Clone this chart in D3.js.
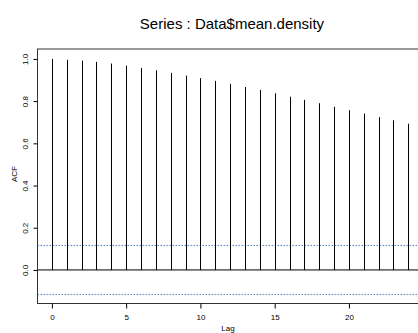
<!DOCTYPE html>
<html>
<head>
<meta charset="utf-8">
<script src="https://cdn.jsdelivr.net/npm/d3@7/dist/d3.min.js"></script>
<style>
  html, body { margin: 0; padding: 0; background: #fff; }
  svg { display: block; }
  text { font-family: "Liberation Sans", Arial, sans-serif; fill: #000; }
</style>
</head>
<body>
<svg id="chart" width="418" height="333"></svg>
<script>
const title = "Series : Data$mean.density";
const xLabel = "Lag";
const yLabel = "ACF";
const lags = [0,1,2,3,4,5,6,7,8,9,10,11,12,13,14,15,16,17,18,19,20,21,22,23,24];
const acf = [1.000,0.996,0.992,0.986,0.978,0.968,0.957,0.946,0.934,0.921,0.909,0.896,0.882,0.867,0.853,0.837,0.821,0.806,0.790,0.773,0.757,0.741,0.724,0.709,0.693];
const ciBound = 0.116;
const xTicks = [0,5,10,15,20];
const yTicks = [0,0.2,0.4,0.6,0.8,1.0];

(function () {
const svg = d3.select("#chart");
const pLeft = 37.5, pRight = 422.6, pTop = 49, pBottom = 303.5;

const x = d3.scaleLinear().domain([-0.969, 24.96]).range([pLeft, pRight]);
const y = d3.scaleLinear().domain([-0.159, 1.047]).range([pBottom, pTop]);

// title
svg.append("text")
  .attr("x", 232).attr("y", 29)
  .attr("text-anchor", "middle")
  .style("font-size", "15px")
  .text(title);

// box
svg.append("rect")
  .attr("x", pLeft).attr("y", pTop)
  .attr("width", pRight - pLeft).attr("height", pBottom - pTop)
  .attr("fill", "none").attr("stroke", "#333").attr("stroke-width", 1);

// confidence lines
[ciBound, -ciBound].forEach(v => {
  svg.append("line")
    .attr("x1", pLeft).attr("x2", pRight)
    .attr("y1", y(v)).attr("y2", y(v))
    .attr("stroke", "#4f7fb8").attr("stroke-width", 1)
    .attr("stroke-dasharray", "1.5,1.5");
});

// zero line
svg.append("line")
  .attr("x1", pLeft).attr("x2", pRight)
  .attr("y1", y(0)).attr("y2", y(0))
  .attr("stroke", "#000").attr("stroke-width", 1);

// spikes
svg.append("g").selectAll("line")
  .data(lags.map((l, i) => ({ lag: l, v: acf[i] })))
  .join("line")
  .attr("x1", d => Math.round(x(d.lag)) + 0.5)
  .attr("x2", d => Math.round(x(d.lag)) + 0.5)
  .attr("y1", y(0))
  .attr("y2", d => y(d.v))
  .attr("stroke", "#000").attr("stroke-width", 1);

// x axis
const xAxis = svg.append("g")
  .attr("transform", `translate(0,${pBottom})`)
  .call(d3.axisBottom(x).tickValues(xTicks).tickSize(5).tickPadding(6).tickSizeOuter(0));
xAxis.select(".domain").remove();
xAxis.selectAll("text").style("font-size", "8px").attr("font-family", null);

// y axis
const yAxis = svg.append("g")
  .attr("transform", `translate(${pLeft},0)`)
  .call(d3.axisLeft(y).tickValues(yTicks).tickSize(4).tickFormat(d3.format(".1f")).tickSizeOuter(0));
yAxis.select(".domain").remove();
yAxis.selectAll("text")
  .style("font-size", "8px")
  .attr("font-family", null)
  .attr("text-anchor", "middle")
  .attr("x", null).attr("dy", null)
  .attr("transform", "translate(-10,0) rotate(-90)")
  .attr("y", 0);

// axis labels
svg.append("text")
  .attr("x", 228).attr("y", 331)
  .attr("text-anchor", "middle")
  .style("font-size", "8px")
  .text(xLabel);

svg.append("text")
  .attr("transform", "translate(17,174) rotate(-90)")
  .attr("text-anchor", "middle")
  .style("font-size", "8px")
  .text(yLabel);
})();
</script>
</body>
</html>
